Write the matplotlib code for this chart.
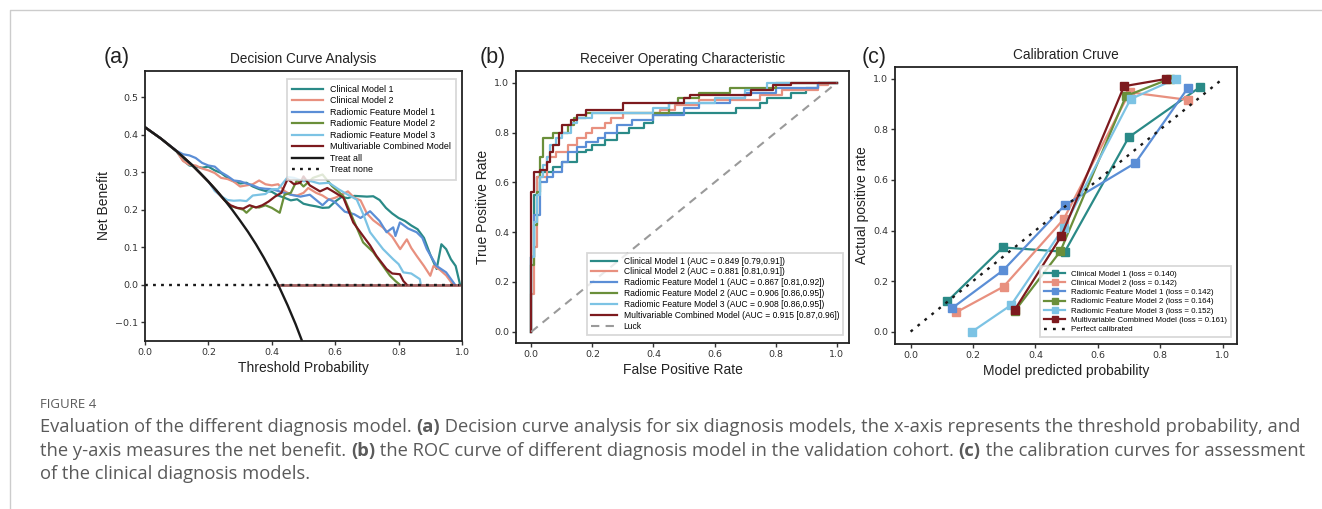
import matplotlib
matplotlib.use("Agg")
import matplotlib.pyplot as plt
from matplotlib.lines import Line2D

plt.rcParams['font.family'] = ['Liberation Sans', 'DejaVu Sans']
plt.rcParams['axes.unicode_minus'] = True

W, H = 1322, 509
fig = plt.figure(figsize=(W / 100, H / 100), dpi=100)

# ---------------- data ----------------
model_names = ["Clinical Model 1", "Clinical Model 2", "Radiomic Feature Model 1",
               "Radiomic Feature Model 2", "Radiomic Feature Model 3",
               "Multivariable Combined Model"]
colors = ["#2a8a87", "#e8907f", "#5b8ed6", "#6a8f3a", "#7cc3e4", "#7d1a1e"]

# (a) decision curves
treat_all_t = [0, 0.025, 0.05, 0.075, 0.10, 0.125, 0.15, 0.175, 0.20, 0.225, 0.25, 0.275,
               0.30, 0.325, 0.35, 0.375, 0.40, 0.42, 0.425, 0.45, 0.475, 0.50]
treat_all_nb = [0.42, 0.405, 0.39, 0.373, 0.356, 0.337, 0.318, 0.297, 0.275, 0.252, 0.227, 0.200,
                0.171, 0.141, 0.108, 0.072, 0.033, 0.0, -0.009, -0.055, -0.105, -0.16]
treat_none_t = [0.0, 0.99]
treat_none_nb = [0.0, 0.0]
floor_t = [0.42, 0.99]
floor_nb = [0.0, 0.0]

dca_t = {
    "Clinical Model 1": [0, 0.05, 0.10, 0.12, 0.14, 0.16, 0.18, 0.20, 0.22, 0.24, 0.26, 0.28, 0.30, 0.32,
                         0.34, 0.36, 0.38, 0.40, 0.42, 0.44, 0.46, 0.48, 0.50, 0.52, 0.54, 0.56, 0.58,
                         0.60, 0.62, 0.64, 0.66, 0.68, 0.70, 0.72, 0.74, 0.76, 0.78, 0.80, 0.82, 0.84,
                         0.86, 0.88, 0.90, 0.92, 0.935, 0.95, 0.965, 0.98, 0.994],
    "Clinical Model 2": [0, 0.05, 0.10, 0.12, 0.14, 0.16, 0.18, 0.20, 0.22, 0.24, 0.26, 0.28, 0.30, 0.32,
                         0.34, 0.36, 0.38, 0.40, 0.42, 0.44, 0.46, 0.48, 0.50, 0.515, 0.54, 0.56, 0.58,
                         0.60, 0.62, 0.64, 0.66, 0.68, 0.70, 0.72, 0.75, 0.78, 0.805, 0.826, 0.84, 0.857,
                         0.88, 0.90, 0.91, 0.93, 0.95, 0.972],
    "Radiomic Feature Model 1": [0, 0.05, 0.10, 0.12, 0.14, 0.16, 0.18, 0.20, 0.22, 0.24, 0.26, 0.28,
                                 0.30, 0.32, 0.34, 0.36, 0.38, 0.40, 0.42, 0.44, 0.46, 0.49, 0.52,
                                 0.56, 0.58, 0.60, 0.63, 0.66, 0.68, 0.71, 0.74, 0.762, 0.783, 0.79,
                                 0.804, 0.83, 0.857, 0.875, 0.889, 0.92, 0.95, 0.978],
    "Radiomic Feature Model 2": [0, 0.05, 0.10, 0.15, 0.20, 0.25, 0.27, 0.29, 0.31, 0.32, 0.34, 0.36,
                                 0.38, 0.40, 0.425, 0.44, 0.46, 0.48, 0.50, 0.53, 0.56, 0.59, 0.626,
                                 0.657, 0.688, 0.72, 0.751, 0.773, 0.79, 0.804],
    "Radiomic Feature Model 3": [0, 0.05, 0.10, 0.15, 0.20, 0.22, 0.24, 0.26, 0.28, 0.30, 0.32, 0.34,
                                 0.36, 0.38, 0.40, 0.42, 0.45, 0.47, 0.50, 0.52, 0.55, 0.58, 0.61,
                                 0.64, 0.668, 0.69, 0.71, 0.73, 0.751, 0.783, 0.80, 0.815, 0.84,
                                 0.867, 0.87],
    "Multivariable Combined Model": [0, 0.05, 0.10, 0.15, 0.20, 0.25, 0.27, 0.29, 0.31, 0.33, 0.35,
                                     0.37, 0.39, 0.41, 0.43, 0.45, 0.47, 0.49, 0.50, 0.52, 0.552,
                                     0.575, 0.593, 0.626, 0.657, 0.688, 0.71, 0.73, 0.762, 0.78,
                                     0.804, 0.815, 0.826],
}
dca_nb = {
    "Clinical Model 1": [0.42, 0.39, 0.355, 0.332, 0.318, 0.315, 0.312, 0.315, 0.305, 0.298, 0.285,
                         0.276, 0.270, 0.272, 0.262, 0.255, 0.250, 0.248, 0.238, 0.232, 0.225, 0.228,
                         0.216, 0.212, 0.209, 0.205, 0.206, 0.222, 0.234, 0.231, 0.237, 0.236, 0.235,
                         0.236, 0.226, 0.205, 0.190, 0.178, 0.170, 0.158, 0.148, 0.125, 0.080,
                         0.042, 0.108, 0.095, 0.068, 0.050, 0.0],
    "Clinical Model 2": [0.42, 0.39, 0.356, 0.330, 0.320, 0.318, 0.310, 0.305, 0.298, 0.285, 0.282,
                         0.275, 0.262, 0.265, 0.268, 0.278, 0.268, 0.265, 0.268, 0.250, 0.240,
                         0.238, 0.245, 0.258, 0.245, 0.238, 0.227, 0.232, 0.240, 0.249, 0.232,
                         0.225, 0.190, 0.172, 0.153, 0.128, 0.095, 0.121, 0.098, 0.077, 0.050,
                         0.024, 0.050, 0.040, 0.025, 0.0],
    "Radiomic Feature Model 1": [0.42, 0.39, 0.357, 0.348, 0.345, 0.338, 0.325, 0.318, 0.315, 0.300,
                                 0.290, 0.278, 0.276, 0.270, 0.265, 0.258, 0.256, 0.255, 0.250,
                                 0.245, 0.240, 0.235, 0.240, 0.212, 0.228, 0.220, 0.195, 0.188,
                                 0.178, 0.196, 0.170, 0.140, 0.153, 0.130, 0.166, 0.150, 0.140,
                                 0.125, 0.095, 0.050, 0.033, 0.0],
    "Radiomic Feature Model 2": [0.42, 0.39, 0.356, 0.318, 0.275, 0.226, 0.210, 0.205, 0.200, 0.192,
                                 0.208, 0.206, 0.212, 0.205, 0.192, 0.240, 0.245, 0.280, 0.262,
                                 0.285, 0.294, 0.263, 0.236, 0.174, 0.113, 0.087, 0.050, 0.024,
                                 0.010, 0.0],
    "Radiomic Feature Model 3": [0.42, 0.39, 0.356, 0.318, 0.275, 0.250, 0.236, 0.226, 0.224, 0.225,
                                 0.223, 0.238, 0.240, 0.242, 0.255, 0.255, 0.287, 0.285, 0.276,
                                 0.277, 0.270, 0.272, 0.255, 0.240, 0.227, 0.185, 0.140, 0.118,
                                 0.095, 0.068, 0.055, 0.033, 0.030, 0.015, 0.0],
    "Multivariable Combined Model": [0.42, 0.39, 0.356, 0.318, 0.275, 0.226, 0.212, 0.205, 0.203,
                                     0.212, 0.206, 0.212, 0.222, 0.235, 0.245, 0.282, 0.268, 0.272,
                                     0.289, 0.265, 0.249, 0.258, 0.249, 0.232, 0.166, 0.130, 0.105,
                                     0.077, 0.042, 0.030, 0.028, 0.010, 0.0],
}

# (b) ROC curves
roc_fpr = {
    "Clinical Model 1": [0, 0, 0.01, 0.01, 0.02, 0.02, 0.03, 0.03, 0.07, 0.07, 0.10, 0.10, 0.15, 0.15,
                         0.18, 0.18, 0.20, 0.20, 0.24, 0.24, 0.28, 0.28, 0.32, 0.32, 0.37, 0.37, 0.40,
                         0.40, 0.45, 0.45, 0.67, 0.67, 0.75, 0.75, 0.77, 0.77, 0.85, 0.85, 0.90, 0.90,
                         0.94, 0.94, 1.0],
    "Clinical Model 2": [0, 0, 0.01, 0.01, 0.02, 0.02, 0.05, 0.05, 0.08, 0.08, 0.12, 0.12, 0.15, 0.15,
                         0.18, 0.18, 0.20, 0.20, 0.24, 0.24, 0.26, 0.26, 0.30, 0.30, 0.42, 0.42, 0.47,
                         0.47, 0.55, 0.55, 0.75, 0.75, 0.82, 0.82, 0.94, 0.94, 0.97, 0.97, 1.0],
    "Radiomic Feature Model 1": [0, 0, 0.01, 0.01, 0.03, 0.03, 0.05, 0.05, 0.07, 0.07, 0.10, 0.10,
                                 0.12, 0.12, 0.15, 0.15, 0.18, 0.18, 0.22, 0.22, 0.24, 0.24, 0.28,
                                 0.28, 0.33, 0.33, 0.40, 0.40, 0.50, 0.50, 0.55, 0.55, 0.65, 0.65,
                                 0.70, 0.70, 0.80, 0.80, 0.94, 0.94, 1.0],
    "Radiomic Feature Model 2": [0, 0, 0.01, 0.01, 0.02, 0.02, 0.03, 0.03, 0.04, 0.04, 0.07, 0.07,
                                 0.12, 0.12, 0.14, 0.14, 0.18, 0.18, 0.45, 0.45, 0.48, 0.48, 0.55,
                                 0.55, 0.65, 0.65, 0.80, 0.80, 1.0],
    "Radiomic Feature Model 3": [0, 0, 0.01, 0.01, 0.02, 0.02, 0.03, 0.03, 0.04, 0.04, 0.05, 0.05,
                                 0.06, 0.06, 0.08, 0.08, 0.10, 0.10, 0.13, 0.13, 0.15, 0.15, 0.20,
                                 0.20, 0.40, 0.40, 0.45, 0.45, 0.60, 0.60, 0.70, 0.70, 0.77, 0.77,
                                 1.0],
    "Multivariable Combined Model": [0, 0, 0.01, 0.01, 0.03, 0.03, 0.05, 0.05, 0.06, 0.06, 0.07, 0.07,
                                     0.09, 0.09, 0.10, 0.10, 0.13, 0.13, 0.15, 0.15, 0.18, 0.18,
                                     0.30, 0.30, 0.50, 0.50, 0.52, 0.52, 0.72, 0.72, 0.79, 0.79,
                                     0.85, 0.85, 1.0],
}
roc_tpr = {
    "Clinical Model 1": [0, 0.30, 0.30, 0.55, 0.55, 0.62, 0.62, 0.64, 0.64, 0.66, 0.66, 0.68, 0.68,
                         0.72, 0.72, 0.73, 0.73, 0.75, 0.75, 0.77, 0.77, 0.80, 0.80, 0.82, 0.82, 0.84,
                         0.84, 0.87, 0.87, 0.88, 0.88, 0.90, 0.90, 0.92, 0.92, 0.94, 0.94, 0.96, 0.96,
                         0.98, 0.98, 1.0, 1.0],
    "Clinical Model 2": [0, 0.15, 0.15, 0.34, 0.34, 0.62, 0.62, 0.70, 0.70, 0.72, 0.72, 0.75, 0.75,
                         0.78, 0.78, 0.80, 0.80, 0.82, 0.82, 0.84, 0.84, 0.86, 0.86, 0.88, 0.88, 0.89,
                         0.89, 0.91, 0.91, 0.93, 0.93, 0.95, 0.95, 0.97, 0.97, 0.99, 0.99, 1.0, 1.0],
    "Radiomic Feature Model 1": [0, 0.30, 0.30, 0.47, 0.47, 0.60, 0.60, 0.62, 0.62, 0.64, 0.64, 0.68,
                                 0.68, 0.72, 0.72, 0.74, 0.74, 0.76, 0.76, 0.78, 0.78, 0.80, 0.80,
                                 0.83, 0.83, 0.85, 0.85, 0.87, 0.87, 0.90, 0.90, 0.92, 0.92, 0.94,
                                 0.94, 0.96, 0.96, 0.98, 0.98, 1.0, 1.0],
    "Radiomic Feature Model 2": [0, 0.27, 0.27, 0.43, 0.43, 0.56, 0.56, 0.70, 0.70, 0.78, 0.78, 0.80,
                                 0.80, 0.83, 0.83, 0.86, 0.86, 0.88, 0.88, 0.92, 0.92, 0.94, 0.94,
                                 0.96, 0.96, 0.98, 0.98, 1.0, 1.0],
    "Radiomic Feature Model 3": [0, 0.30, 0.30, 0.44, 0.44, 0.55, 0.55, 0.62, 0.62, 0.67, 0.67, 0.70,
                                 0.70, 0.75, 0.75, 0.78, 0.78, 0.80, 0.80, 0.84, 0.84, 0.86, 0.86,
                                 0.88, 0.88, 0.90, 0.90, 0.92, 0.92, 0.94, 0.94, 0.97, 0.97, 1.0,
                                 1.0],
    "Multivariable Combined Model": [0, 0.56, 0.56, 0.64, 0.64, 0.65, 0.65, 0.68, 0.68, 0.72, 0.72,
                                     0.75, 0.75, 0.80, 0.80, 0.83, 0.83, 0.85, 0.85, 0.87, 0.87, 0.89,
                                     0.89, 0.92, 0.92, 0.94, 0.94, 0.95, 0.95, 0.97, 0.97, 0.99, 0.99,
                                     1.0, 1.0],
}
roc_auc = ["0.849 [0.79,0.91]", "0.881 [0.81,0.91]", "0.867 [0.81,0.92]",
           "0.906 [0.86,0.95]", "0.908 [0.86,0.95]", "0.915 [0.87,0.96]"]
luck_x = [0, 1]
luck_y = [0, 1]

# (c) calibration
cal_pred = {
    "Clinical Model 1": [0.118, 0.295, 0.494, 0.699, 0.928],
    "Clinical Model 2": [0.147, 0.298, 0.490, 0.702, 0.888],
    "Radiomic Feature Model 1": [0.132, 0.297, 0.494, 0.720, 0.888],
    "Radiomic Feature Model 2": [0.334, 0.480, 0.690, 0.830],
    "Radiomic Feature Model 3": [0.197, 0.322, 0.490, 0.705, 0.850],
    "Multivariable Combined Model": [0.334, 0.483, 0.684, 0.820],
}
cal_true = {
    "Clinical Model 1": [0.120, 0.333, 0.316, 0.769, 0.968],
    "Clinical Model 2": [0.077, 0.178, 0.444, 0.947, 0.917],
    "Radiomic Feature Model 1": [0.092, 0.243, 0.500, 0.667, 0.963],
    "Radiomic Feature Model 2": [0.082, 0.318, 0.932, 1.0],
    "Radiomic Feature Model 3": [0.0, 0.105, 0.410, 0.920, 1.0],
    "Multivariable Combined Model": [0.087, 0.378, 0.971, 1.0],
}
cal_loss = ["0.140", "0.142", "0.142", "0.164", "0.152", "0.161"]
perfect_x = [0, 1]
perfect_y = [0, 1]

ticks01 = [0.0, 0.2, 0.4, 0.6, 0.8, 1.0]
dca_yticks = [-0.1, 0.0, 0.1, 0.2, 0.3, 0.4, 0.5]

# ---------------- layout helpers ----------------
def ax_px(left, top, right, bottom):
    return fig.add_axes([left / W, 1 - bottom / H, (right - left) / W, (bottom - top) / H])

TICK_FS = 6.8
LABEL_FS = 10
TITLE_FS = 9.8
SPINE = '#222222'
LW = 1.6

def style(ax):
    for s in ax.spines.values():
        s.set_color(SPINE)
        s.set_linewidth(1.3)
    ax.tick_params(labelsize=TICK_FS, colors='#333333', length=3, width=1.0, pad=2)
    for lab in ax.get_xticklabels() + ax.get_yticklabels():
        lab.set_fontfamily(['DejaVu Sans'])

def frame(leg):
    leg.get_frame().set_linewidth(1.3)
    leg.get_frame().set_edgecolor('#cfcfcf')

# ---------------- (a) ----------------
axa = ax_px(145, 71, 462, 341)
for name, c in zip(model_names, colors):
    axa.plot(dca_t[name], dca_nb[name], color=c, lw=LW, label=name)
axa.plot(floor_t, floor_nb, color='#8b3a3a', lw=2.0, alpha=0.8)
axa.plot(treat_all_t, treat_all_nb, color='#1a1a1a', lw=1.7, label='Treat all')
axa.plot(treat_none_t, treat_none_nb, color='#1a1a1a', lw=1.7, ls=(0, (1.2, 2.2)), label='Treat none')
axa.set_xlim(0, 1.0)
axa.set_ylim(-0.15, 0.57)
axa.set_xticks(ticks01)
axa.set_yticks(dca_yticks)
axa.set_xlabel('Threshold Probability', fontsize=LABEL_FS, color='#222222', labelpad=3)
axa.set_ylabel('Net Benefit', fontsize=LABEL_FS, color='#222222', labelpad=3)
axa.set_title('Decision Curve Analysis', fontsize=TITLE_FS, color='#222222', pad=6)
style(axa)
frame(axa.legend(loc='upper right', fontsize=6.4, frameon=True, fancybox=False,
                 handlelength=3.4, labelspacing=0.28, borderpad=0.6, bbox_to_anchor=(0.995, 0.985)))

# ---------------- (b) ----------------
axb = ax_px(516, 71, 849, 343)
for name, c, auc in zip(model_names, colors, roc_auc):
    axb.plot(roc_fpr[name], roc_tpr[name], color=c, lw=LW, label=f'{name} (AUC = {auc})')
axb.plot(luck_x, luck_y, color='#9a9a9a', lw=1.5, ls=(0, (4, 3)), label='Luck')
axb.set_xlim(-0.05, 1.04)
axb.set_ylim(-0.045, 1.047)
axb.set_xticks(ticks01)
axb.set_yticks(ticks01)
axb.set_xlabel('False Positive Rate', fontsize=LABEL_FS, color='#222222', labelpad=3)
axb.set_ylabel('True Positive Rate', fontsize=LABEL_FS, color='#222222', labelpad=3)
axb.set_title('Receiver Operating Characteristic', fontsize=TITLE_FS, color='#222222', pad=6)
style(axb)
frame(axb.legend(loc='lower right', fontsize=6.15, frameon=True, fancybox=False,
                 handlelength=3.0, labelspacing=0.22, borderpad=0.45, bbox_to_anchor=(0.995, 0.015)))

# ---------------- (c) ----------------
axc = ax_px(895, 67, 1237, 344)
for name, c, loss in zip(model_names, colors, cal_loss):
    axc.plot(cal_pred[name], cal_true[name], color=c, lw=LW, marker='s', ms=5.5,
             label=f'{name} (loss = {loss})')
axc.plot(perfect_x, perfect_y, color='#1a1a1a', lw=1.7, ls=(0, (1.2, 2.6)), label='Perfect calibrated')
axc.set_xlim(-0.05, 1.046)
axc.set_ylim(-0.049, 1.047)
axc.set_xticks(ticks01)
axc.set_yticks(ticks01)
axc.set_xlabel('Model predicted probability', fontsize=LABEL_FS, color='#222222', labelpad=3)
axc.set_ylabel('Actual positive rate', fontsize=LABEL_FS, color='#222222', labelpad=3)
axc.set_title('Calibration Cruve', fontsize=TITLE_FS, color='#222222', pad=6)
style(axc)
frame(axc.legend(loc='lower right', fontsize=5.7, frameon=True, fancybox=False,
                 handlelength=2.6, labelspacing=0.22, borderpad=0.5, markerscale=0.8,
                 bbox_to_anchor=(0.995, 0.01)))

# panel letters
for lbl, x in [('(a)', 104), ('(b)', 480), ('(c)', 862)]:
    fig.text(x / W, 1 - 57 / H, lbl, fontsize=15.5, color='#222222', va='center', ha='left')

# page frame (light gray)
fig.add_artist(Line2D([10 / W, 10 / W, 1.0], [0.0, 1 - 10 / H, 1 - 10 / H],
                      color='#cccccc', lw=1.0))

# ---------------- caption ----------------
CAP_FONT = ['Open Sans', 'DejaVu Sans']
CAP_COL = '#5a5a5a'
fig.text(40 / W, 1 - 404 / H, 'FIGURE 4', fontsize=9.5, color=CAP_COL, family=CAP_FONT, va='center')

cap_lines = [
    [("Evaluation of the different diagnosis model. ", False), ("(a)", True),
     (" Decision curve analysis for six diagnosis models, the x-axis represents the threshold probability, and", False)],
    [("the y-axis measures the net benefit. ", False), ("(b)", True),
     (" the ROC curve of different diagnosis model in the validation cohort. ", False), ("(c)", True),
     (" the calibration curves for assessment", False)],
    [("of the clinical diagnosis models.", False)],
]
cap_y = [427, 451, 474]
CAP_FS = 12

fig.canvas.draw()
renderer = fig.canvas.get_renderer()

def draw_line(segs, y, fs, draw=True):
    x = 40.0
    arts = []
    for txt, bold in segs:
        t = fig.text(x / W, 1 - y / H, txt, fontsize=fs, color=CAP_COL, family=CAP_FONT,
                     fontweight='bold' if bold else 'normal', va='center', ha='left')
        bb = t.get_window_extent(renderer=renderer)
        x += bb.width
        arts.append(t)
    if not draw:
        for a in arts:
            a.remove()
    return x

end_x = draw_line(cap_lines[0], cap_y[0], CAP_FS, draw=False)
fs_fit = CAP_FS * (1293 - 40) / (end_x - 40)
for segs, y in zip(cap_lines, cap_y):
    draw_line(segs, y, fs_fit)

fig.savefig('out.png', dpi=100)
